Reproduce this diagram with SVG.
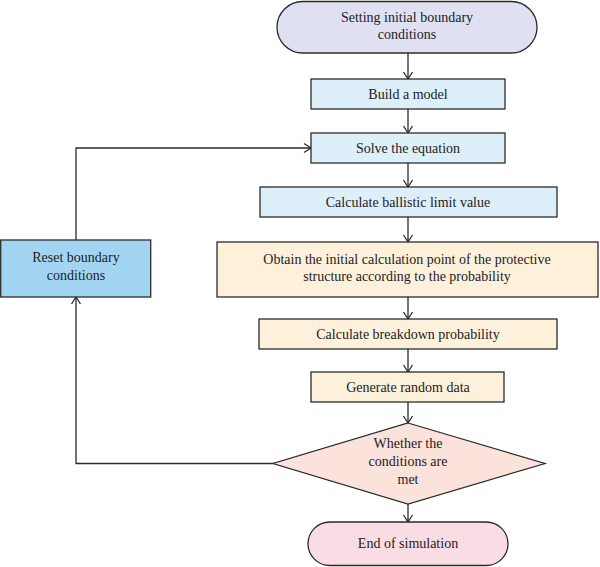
<svg xmlns="http://www.w3.org/2000/svg" width="600" height="567" viewBox="0 0 600 567">
<style>
.s{stroke:#2b2b2b;stroke-width:1.3}
.t{font-family:"Liberation Serif","DejaVu Serif",serif;font-size:14px;fill:#222;text-anchor:middle}
.c{fill:none;stroke:#2b2b2b;stroke-width:1.3}
.lb{fill:#ddeff9}
.bg{fill:#fdf1dc}
</style>
<defs>
<marker id="ar" markerUnits="userSpaceOnUse" markerWidth="12" markerHeight="12" viewBox="0 0 12 12" refX="10" refY="6" orient="auto">
<path d="M3,1.5 L10,6 L3,10.5" fill="none" stroke="#2b2b2b" stroke-width="1.3"/>
</marker>
</defs>
<rect width="600" height="567" fill="#ffffff"/>
<g id="connectors">
<line class="c" x1="408" y1="53" x2="408" y2="79" marker-end="url(#ar)"/>
<line class="c" x1="408" y1="109" x2="408" y2="133" marker-end="url(#ar)"/>
<line class="c" x1="408" y1="163" x2="408" y2="187" marker-end="url(#ar)"/>
<line class="c" x1="408" y1="217" x2="408" y2="242" marker-end="url(#ar)"/>
<line class="c" x1="408" y1="297" x2="408" y2="319" marker-end="url(#ar)"/>
<line class="c" x1="408" y1="349" x2="408" y2="372" marker-end="url(#ar)"/>
<line class="c" x1="408" y1="402" x2="408" y2="423" marker-end="url(#ar)"/>
<line class="c" x1="408" y1="504" x2="408" y2="522" marker-end="url(#ar)"/>
<polyline class="c" points="273,463.5 76,463.5 76,297" marker-end="url(#ar)"/>
<polyline class="c" points="76,240 76,148 311,148" marker-end="url(#ar)"/>
</g>
<g id="start">
<rect class="s" x="277" y="1.5" width="260" height="51.5" rx="25.75" fill="#dfe1f3"/>
<text class="t" x="407" y="22">Setting initial boundary</text>
<text class="t" x="407" y="39">conditions</text>
</g>
<g id="build">
<rect class="s lb" x="311" y="79" width="194" height="30"/>
<text class="t" x="408" y="99">Build a model</text>
</g>
<g id="solve">
<rect class="s lb" x="311" y="133" width="194" height="30"/>
<text class="t" x="408" y="153">Solve the equation</text>
</g>
<g id="ballistic">
<rect class="s lb" x="260" y="187" width="297" height="30"/>
<text class="t" x="408" y="207">Calculate ballistic limit value</text>
</g>
<g id="obtain">
<rect class="s bg" x="217" y="242" width="381" height="55"/>
<text class="t" x="407" y="264">Obtain the initial calculation point of the protective</text>
<text class="t" x="407" y="281">structure according to the probability</text>
</g>
<g id="breakdown">
<rect class="s bg" x="259" y="319" width="298" height="30"/>
<text class="t" x="408" y="339">Calculate breakdown probability</text>
</g>
<g id="random">
<rect class="s bg" x="311" y="372" width="193" height="30"/>
<text class="t" x="408" y="392">Generate random data</text>
</g>
<g id="decision">
<polygon class="s" points="408,423 545,463.5 408,504 273,463.5" fill="#fbe3dc"/>
<text class="t" x="408" y="448">Whether the</text>
<text class="t" x="408" y="466">conditions are</text>
<text class="t" x="408" y="484">met</text>
</g>
<g id="end">
<rect class="s" x="308" y="522" width="200" height="43.5" rx="21.75" fill="#fadde4"/>
<text class="t" x="408" y="548">End of simulation</text>
</g>
<g id="reset">
<rect class="s" x="0.7" y="240" width="150" height="57" fill="#a2d5f2"/>
<text class="t" x="76" y="262">Reset boundary</text>
<text class="t" x="76" y="280">conditions</text>
</g>
</svg>
